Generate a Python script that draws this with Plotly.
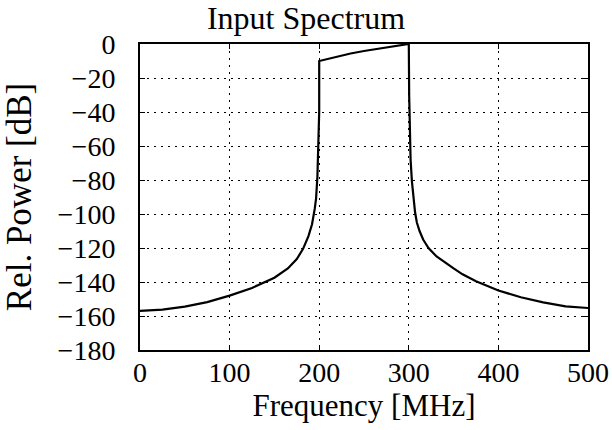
import plotly.graph_objects as go

# spectrum (MHz, dB)
freq_mhz = [0, 25, 50, 75, 100, 125, 150, 165, 175, 182, 188, 192, 195, 196.5,
            198, 199.3, 200, 200, 210, 220, 235, 250, 265, 280, 290, 300,
            300, 300.4, 301, 302, 303.5, 305, 307, 309, 312, 316, 322, 331,
            340, 350, 360, 375, 400, 425, 450, 475, 500]
power_db = [-157, -156.2, -154.5, -151.8, -148, -143.5, -137.5, -132, -126.5, -120.5,
            -113, -106, -97, -91, -78, -55, -40, -10, -8.7, -7.3, -5.6, -4.1,
            -2.8, -1.6, -0.8, 0, 0, -30, -52, -68, -81, -91, -99, -105, -110,
            -115, -120, -125, -128.5, -132, -135.5, -139.5, -145, -149, -152,
            -154.3, -155.3]

x_ticks = [0, 100, 200, 300, 400, 500]
y_ticks = [0, -20, -40, -60, -80, -100, -120, -140, -160, -180]

FONT = "Liberation Serif"

fig = go.Figure()
fig.add_trace(go.Scatter(x=freq_mhz, y=power_db, mode="lines",
                         line=dict(color="black", width=2.2),
                         showlegend=False, hoverinfo="skip"))

axis_common = dict(
    showline=True, linecolor="black", linewidth=2, mirror="ticks",
    ticks="inside", ticklen=5, tickwidth=1.2, tickcolor="black",
    showgrid=True, gridcolor="black", gridwidth=1, griddash="2px,5px",
    zeroline=False, automargin=False,
    tickfont=dict(family=FONT, size=28, color="black"),
)

fig.update_xaxes(range=[0, 500], tickvals=x_ticks, ticklabelstandoff=-4,
                 title=dict(text="Frequency [MHz]", standoff=7,
                            font=dict(family=FONT, size=31, color="black")),
                 **axis_common)
fig.update_yaxes(range=[-180, 0], tickvals=y_ticks, ticklabelstandoff=17,
                 title=dict(text="Rel. Power [dB]", standoff=22,
                            font=dict(family=FONT, size=35, color="black")),
                 **axis_common)

fig.update_layout(
    width=612, height=430,
    margin=dict(l=140, r=24, t=44, b=80),
    paper_bgcolor="white", plot_bgcolor="white",
    font=dict(family=FONT, color="black"),
    title=dict(text="Input Spectrum", x=0.5, xanchor="center",
               y=0.958, yanchor="middle",
               font=dict(family=FONT, size=32, color="black")),
)

# drop the page's default body margin so the figure sits at the window origin
fig.write_html("out.html", config={"displayModeBar": False},
               post_script="document.body.style.margin='0';")
